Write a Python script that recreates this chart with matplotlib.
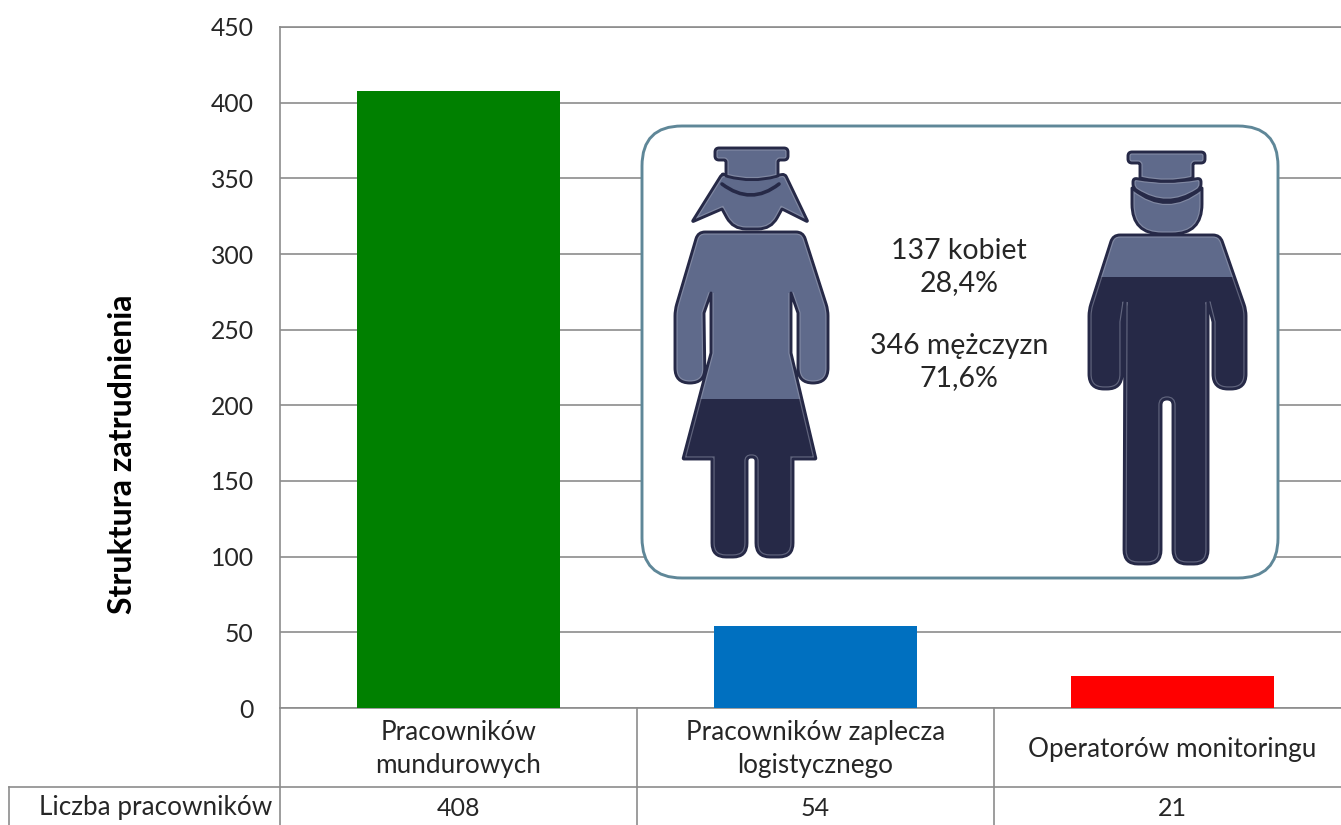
import matplotlib
matplotlib.use("Agg")
import matplotlib.pyplot as plt
from matplotlib.patches import FancyBboxPatch, PathPatch, Rectangle
from matplotlib.path import Path
import numpy as np

categories = ["Pracowników\nmundurowych", "Pracowników zaplecza\nlogistycznego", "Operatorów monitoringu"]
values = [408, 54, 21]
bar_colors = ["#008000", "#0070C0", "#FF0000"]
y_ticks = [0, 50, 100, 150, 200, 250, 300, 350, 400, 450]
row_label = "Liczba pracowników"
y_title = "Struktura zatrudnienia"
box_lines = ["137 kobiet", "28,4%", "346 mężczyzn", "71,6%"]

GRAY = "#8c8c8c"
TXT = "#262626"
LIGHT = "#5f6a8b"
DARK = "#262947"
FS = 18.8

plt.rcParams["font.family"] = ["Lato", "DejaVu Sans"]

W, H = 1341, 825
fig = plt.figure(figsize=(W / 100, H / 100), dpi=100)
left, right, top, bottom = 280, 1341, 27, 708
ax = fig.add_axes([left / W, 1 - bottom / H, (right - left) / W, (bottom - top) / H])

# the plot area runs on past the right edge of the picture
x = np.arange(len(values))
ax.bar(x, values, width=0.57, color=bar_colors, zorder=3)
ax.set_xlim(-0.5, -0.5 + (right - left) / 357)
ax.set_ylim(0, 450)
ax.set_yticks(y_ticks)
ax.tick_params(axis="y", length=0, pad=19, labelsize=17.8, labelcolor=TXT)
ax.set_xticks([])
ax.grid(axis="y", color=GRAY, linewidth=1.2, zorder=0)
ax.set_axisbelow(True)
ax.spines["right"].set_visible(False)
for s in ["left", "top", "bottom"]:
    ax.spines[s].set_color(GRAY)
    ax.spines[s].set_linewidth(1.2)
fig.text(122 / W, 1 - 454 / H, y_title, rotation=90, ha="center", va="center", fontsize=23, fontweight="bold",
         color="black")

xform = ax.get_xaxis_transform()
for i, c in enumerate(categories):
    ax.annotate(c, xy=(i, 0), xycoords=xform, xytext=(0, -41), textcoords="offset pixels", ha="center",
                va="center", fontsize=FS, color=TXT, linespacing=1.38, annotation_clip=False)
    ax.annotate(str(values[i]), xy=(i, 0), xycoords=xform, xytext=(0, -101), textcoords="offset pixels",
                ha="center", va="center", fontsize=18, color=TXT, annotation_clip=False)

# overlay in pixel coordinates for the table lines and the inset
ov = fig.add_axes([0, 0, 1, 1], zorder=5)
ov.set_xlim(0, W)
ov.set_ylim(H, 0)
ov.axis("off")

ov.plot([280, 280], [708, 825], color=GRAY, lw=1.2)
ov.plot([637, 637], [708, 825], color=GRAY, lw=1.2)
ov.plot([994, 994], [708, 825], color=GRAY, lw=1.2)
ov.plot([9, 9], [787, 825], color=GRAY, lw=1.2)
ov.plot([9, W], [787, 787], color=GRAY, lw=1.2)
ov.text(272, 808, row_label, ha="right", va="center", fontsize=FS, color=TXT)

ov.add_patch(FancyBboxPatch((642 + 40, 126 + 40), 636 - 80, 452 - 80, boxstyle="round,pad=40,rounding_size=40",
                            fc="white", ec="#5f8798", lw=2.1, zorder=2))

BOX_FS = 20.5
ov.text(959, 251, box_lines[0], ha="center", va="center", fontsize=BOX_FS, color=TXT, zorder=4)
ov.text(959, 283, box_lines[1], ha="center", va="center", fontsize=BOX_FS, color=TXT, zorder=4)
ov.text(959, 346, box_lines[2], ha="center", va="center", fontsize=BOX_FS, color=TXT, zorder=4)
ov.text(959, 378, box_lines[3], ha="center", va="center", fontsize=BOX_FS, color=TXT, zorder=4)


def rounded(pts):
    # polygon where each corner is (x, y, radius)
    verts, codes = [], []
    n = len(pts)
    for i in range(n):
        p = np.array(pts[i][:2], float)
        r = pts[i][2]
        prev = np.array(pts[i - 1][:2], float)
        nxt = np.array(pts[(i + 1) % n][:2], float)
        if r == 0:
            verts.append(p)
            codes.append(Path.LINETO)
        else:
            a = p + (prev - p) / np.linalg.norm(prev - p) * r
            b = p + (nxt - p) / np.linalg.norm(nxt - p) * r
            verts += [a, p, b]
            codes += [Path.LINETO, Path.CURVE3, Path.CURVE3]
    codes[0] = Path.MOVETO
    verts.append(verts[0])
    codes.append(Path.CLOSEPOLY)
    return Path(verts, codes)


def shape(pts, split=None, z=3):
    path = rounded(pts)
    fill = PathPatch(path, fc=LIGHT, ec="none", zorder=z)
    ov.add_patch(fill)
    if split is not None:
        r = Rectangle((600, split), 700, 300, fc=DARK, ec="none", zorder=z)
        ov.add_patch(r)
        r.set_clip_path(fill)
    # bevel: pale inner rim under the dark outline
    rim = PathPatch(path, fc="none", ec="#a9adbf", lw=3.8, alpha=0.45, zorder=z)
    ov.add_patch(rim)
    rim.set_clip_path(fill)
    ov.add_patch(PathPatch(path, fc="none", ec=DARK, lw=2.1, joinstyle="round", zorder=z))


def arc(p0, c, p1, z=3, lw=2.6):
    ov.add_patch(PathPatch(Path([p0, c, p1], [Path.MOVETO, Path.CURVE3, Path.CURVE3]), fc="none", ec=DARK,
                           lw=lw, capstyle="round", zorder=z))


# woman
shape([(722, 174, 3), (692, 222, 2), (722, 209, 0), (733, 229, 13), (771, 229, 13), (782, 209, 0),
       (808, 222, 2), (785, 174, 3), (752, 180, 30)])
arc((722, 184), (751, 206), (779, 184))
shape([(715, 148, 4), (788, 148, 4), (788, 160, 4), (778, 160, 2), (778, 176, 0), (752, 183, 25),
       (726, 176, 0), (726, 160, 2), (715, 160, 4)])
shape([(698, 232, 7), (803, 232, 7), (828, 310, 6), (828, 383, 15), (798, 383, 15), (798, 313, 0), (791, 293, 0),
       (791, 353, 0), (816, 459, 1), (793, 459, 0), (793, 557, 14), (756, 557, 14), (756, 457, 4), (747, 457, 4),
       (747, 557, 14), (712, 557, 14), (712, 459, 0), (683, 459, 1), (711, 353, 0), (711, 293, 0), (704, 313, 0),
       (705, 383, 15), (675, 383, 15), (675, 310, 6)], split=399)

# man
shape([(1132, 188, 0), (1132, 234, 30), (1202, 234, 30), (1202, 188, 0), (1167, 216, 43)])
shape([(1133, 178, 4), (1133, 188, 4), (1167, 210, 36), (1201, 188, 4), (1201, 178, 4), (1167, 184, 30)])
shape([(1128, 152, 4), (1205, 152, 4), (1205, 163, 4), (1193, 163, 2), (1193, 178, 0), (1167, 184, 25),
       (1140, 178, 0), (1140, 163, 2), (1128, 163, 4)])
shape([(1113, 235, 7), (1220, 235, 7), (1246, 310, 6), (1246, 389, 15), (1213, 389, 15), (1213, 322, 0),
       (1208, 302, 0), (1208, 564, 14), (1173, 564, 14), (1173, 399, 6), (1161, 399, 6), (1161, 564, 14),
       (1124, 564, 14), (1125, 302, 0), (1122, 322, 0), (1122, 389, 15), (1089, 389, 15), (1089, 310, 6)],
      split=277)

fig.savefig("out.png", dpi=100)
